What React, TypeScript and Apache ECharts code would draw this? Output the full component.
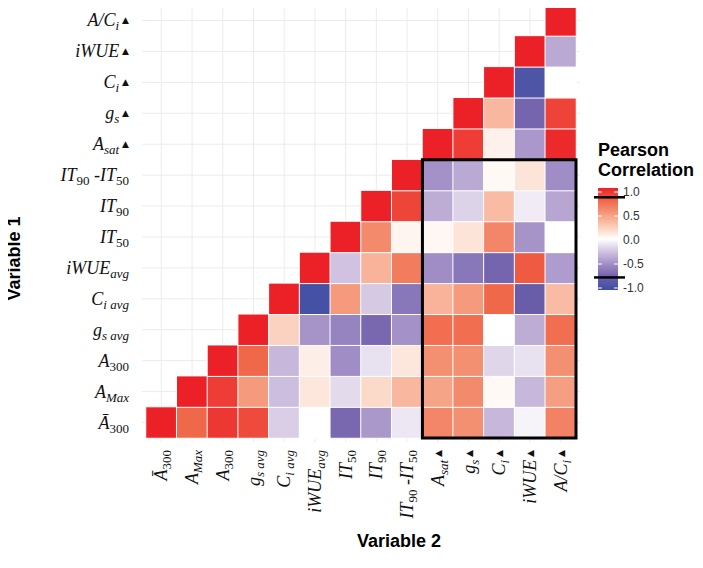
import React, { useEffect, useRef } from "react";
import * as echarts from "echarts";

// Variables (bottom → top on the y axis, left → right on the x axis)
const variables = [
  "Ā300", "AMax", "A300", "gs avg", "Ci avg", "iWUEavg", "IT50", "IT90",
  "IT90-IT50", "Asat ▲", "gs ▲", "Ci ▲", "iWUE ▲", "A/Ci ▲",
];

// Rich-text tick labels, same order as variables
const tickLabels = [
  "{m|Ā}{s|300}",
  "{m|A}{si|Max}",
  "{m|A}{s|300}",
  "{m|g}{si|s avg}",
  "{m|C}{si|i avg}",
  "{m|iWUE}{si|avg}",
  "{m|IT}{s|50}",
  "{m|IT}{s|90}",
  "{m|IT}{s|90}{m| -IT}{s|50}",
  "{m|A}{si|sat}{t| ▲}",
  "{m|g}{si|s}{t| ▲}",
  "{m|C}{si|i}{t| ▲}",
  "{m|iWUE}{t| ▲}",
  "{m|A/C}{si|i}{t| ▲}",
];

// Correlation rows: row k holds values for columns k..13
const rowA300bar = [1.0, 0.75, 0.92, 0.85, -0.2, 0.0, -0.7, -0.45, -0.1, 0.6, 0.55, -0.3, -0.05, 0.62];
const rowAMax = [1.0, 0.9, 0.5, -0.27, 0.12, -0.15, 0.18, 0.35, 0.45, 0.58, 0.03, -0.3, 0.48];
const rowA300 = [1.0, 0.75, -0.3, 0.08, -0.5, -0.12, 0.12, 0.55, 0.55, -0.17, -0.12, 0.55];
const rowGsAvg = [1.0, 0.22, -0.47, -0.55, -0.7, -0.48, 0.72, 0.72, 0.0, -0.35, 0.72];
const rowCiAvg = [1.0, -0.95, 0.5, -0.22, -0.62, 0.37, 0.5, 0.75, -0.78, 0.33];
const rowIwueAvg = [1.0, -0.25, 0.37, 0.65, -0.5, -0.62, -0.72, 0.8, -0.43];
const rowIT50 = [1.0, 0.58, 0.05, 0.04, 0.13, 0.6, -0.47, 0.0];
const rowIT90 = [1.0, 0.87, -0.35, -0.18, 0.33, -0.08, -0.38];
const rowIT9050 = [1.0, -0.48, -0.37, 0.03, 0.13, -0.5];
const rowAsat = [1.0, 0.9, 0.07, -0.45, 0.97];
const rowGs = [1.0, 0.35, -0.72, 0.88];
const rowCi = [1.0, -0.9, 0.0];
const rowIwue = [1.0, -0.37];
const rowACi = [1.0];

const rows = [
  rowA300bar, rowAMax, rowA300, rowGsAvg, rowCiAvg, rowIwueAvg, rowIT50,
  rowIT90, rowIT9050, rowAsat, rowGs, rowCi, rowIwue, rowACi,
];

// Highlighted block: columns Asat..A/Ci, rows Ā300..IT90-IT50
const boxColumns = [9, 13];
const boxRows = [0, 8];

// Colour scale (−1 → 1)
const scaleColors = [
  "#3a4ea2", "#6f5fab", "#a08dc5", "#d0c2e0", "#ffffff",
  "#fbcbb6", "#f59a7c", "#f0684a", "#ec2027",
];
const legendTicks = [1.0, 0.5, 0.0, -0.5, -1.0];
const legendMarks = [0.89, -0.78];

export default function App() {
  const ref = useRef<HTMLDivElement>(null);

  useEffect(() => {
    if (!ref.current) return;
    const chart = echarts.init(ref.current, null, { renderer: "svg" });

    const heatData: number[][] = [];
    rows.forEach((row, y) => {
      row.forEach((v, k) => heatData.push([y + k, y, v]));
    });

    const serif = "'Liberation Serif', 'DejaVu Serif', serif";
    const rich = {
      m: { fontFamily: serif, fontStyle: "italic", fontSize: 18, color: "#111", lineHeight: 24, verticalAlign: "middle" },
      s: { fontFamily: serif, fontSize: 13, color: "#111", lineHeight: 13, verticalAlign: "bottom" },
      si: { fontFamily: serif, fontStyle: "italic", fontSize: 13, color: "#111", lineHeight: 13, verticalAlign: "bottom" },
      t: { fontFamily: "'DejaVu Sans', sans-serif", fontSize: 9, color: "#111", lineHeight: 24, verticalAlign: "middle" },
    };

    // Legend colour bar geometry
    const barX = 598, barTop = 188, barW = 20, barH = 102;
    const tickTop = 192, tickBottom = 288;
    const vy = (v: number) => tickTop + ((1 - v) / 2) * (tickBottom - tickTop);

    const gradStops = scaleColors
      .slice()
      .reverse()
      .map((c, i) => ({ offset: i / (scaleColors.length - 1), color: c }));

    const boldFont = "bold 18px 'Liberation Sans', Arial, sans-serif";
    const graphics: any[] = [
      {
        type: "rect",
        shape: { x: barX, y: barTop, width: barW, height: barH },
        style: {
          fill: new echarts.graphic.LinearGradient(0, 0, 0, 1, gradStops),
        },
        silent: true,
      },
      {
        type: "text",
        x: barX,
        y: 140,
        style: {
          text: "Pearson\nCorrelation",
          font: boldFont,
          lineHeight: 20,
          fill: "#000",
        },
      },
      {
        type: "text",
        x: 399,
        y: 541,
        style: {
          text: "Variable 2",
          font: boldFont,
          fill: "#000",
          align: "center",
          verticalAlign: "middle",
        },
      },
    ];
    legendTicks.forEach((v) => {
      const y = vy(v);
      graphics.push({
        type: "line",
        shape: { x1: barX, y1: y, x2: barX + 4, y2: y },
        style: { stroke: "#fff", lineWidth: 1 },
        silent: true,
      });
      graphics.push({
        type: "line",
        shape: { x1: barX + barW - 4, y1: y, x2: barX + barW, y2: y },
        style: { stroke: "#fff", lineWidth: 1 },
        silent: true,
      });
      graphics.push({
        type: "text",
        x: barX + barW + 5,
        y,
        style: {
          text: v.toFixed(1),
          font: "12px 'Liberation Sans', Arial, sans-serif",
          fill: "#333",
          align: "left",
          verticalAlign: "middle",
        },
      });
    });
    legendMarks.forEach((v) => {
      const y = vy(v);
      graphics.push({
        type: "line",
        shape: { x1: barX - 4, y1: y, x2: barX + barW + 7, y2: y },
        style: { stroke: "#000", lineWidth: 2.5 },
        silent: true,
      });
    });

    chart.setOption({
      animation: false,
      backgroundColor: "#fff",
      grid: {
        left: 146,
        right: 127,
        top: 5,
        bottom: 130,
        containLabel: false,
        outerBoundsMode: "none",
      },
      xAxis: {
        type: "category",
        data: variables,
        axisLine: { show: false },
        axisTick: { show: false },
        splitLine: { show: false },
        axisLabel: {
          rotate: 90,
          margin: 12,
          interval: 0,
          formatter: (_v: string, i: number) => tickLabels[i],
          rich,
        },
      },
      yAxis: {
        type: "category",
        data: variables,
        name: "Variable 1",
        nameLocation: "middle",
        nameRotate: 90,
        nameGap: 123,
        nameTextStyle: {
          fontFamily: "'Liberation Sans', Arial, sans-serif",
          fontWeight: "bold",
          fontSize: 18,
          color: "#000",
          padding: [0, 74, 0, 0],
        },
        axisLine: { show: false },
        axisTick: { show: false },
        splitLine: { show: false },
        axisLabel: {
          margin: 17,
          interval: 0,
          formatter: (_v: string, i: number) => tickLabels[i],
          rich,
        },
      },
      visualMap: {
        show: false,
        type: "continuous",
        min: -1,
        max: 1,
        dimension: 2,
        seriesIndex: 1,
        inRange: { color: scaleColors },
      },
      graphic: graphics,
      series: [
        {
          type: "custom",
          name: "grid",
          clip: false,
          silent: true,
          z: 1,
          data: variables.map((_, i) => [i, i]),
          renderItem: (params: any, api: any) => {
            const i = api.value(0);
            const p = api.coord([i, i]);
            const cs = params.coordSys;
            return {
              type: "group",
              children: [
                {
                  type: "line",
                  shape: { x1: p[0], y1: cs.y - 4, x2: p[0], y2: cs.y + cs.height + 4 },
                  style: { stroke: "#ebebeb", lineWidth: 1 },
                },
                {
                  type: "line",
                  shape: { x1: cs.x - 4, y1: p[1], x2: cs.x + cs.width + 4, y2: p[1] },
                  style: { stroke: "#ebebeb", lineWidth: 1 },
                },
              ],
            };
          },
        },
        {
          type: "heatmap",
          z: 2,
          data: heatData,
          itemStyle: { borderColor: "#ffffff", borderWidth: 1 },
          emphasis: { disabled: true },
        },
        {
          type: "custom",
          name: "box",
          clip: false,
          silent: true,
          z: 3,
          data: [[boxColumns[0], boxColumns[1], boxRows[0], boxRows[1]]],
          renderItem: (_params: any, api: any) => {
            const tl = api.coord([api.value(0), api.value(3)]);
            const br = api.coord([api.value(1), api.value(2)]);
            const sz = api.size([1, 1]);
            const x = tl[0] - sz[0] / 2;
            const y = tl[1] - sz[1] / 2;
            return {
              type: "rect",
              shape: {
                x,
                y,
                width: br[0] + sz[0] / 2 - x,
                height: br[1] + sz[1] / 2 - y,
              },
              style: { fill: "none", stroke: "#000", lineWidth: 3 },
            };
          },
        },
      ],
    });

    return () => chart.dispose();
  }, []);

  return <div ref={ref} style={{ width: 703, height: 568, margin: -8 }} />;
}
